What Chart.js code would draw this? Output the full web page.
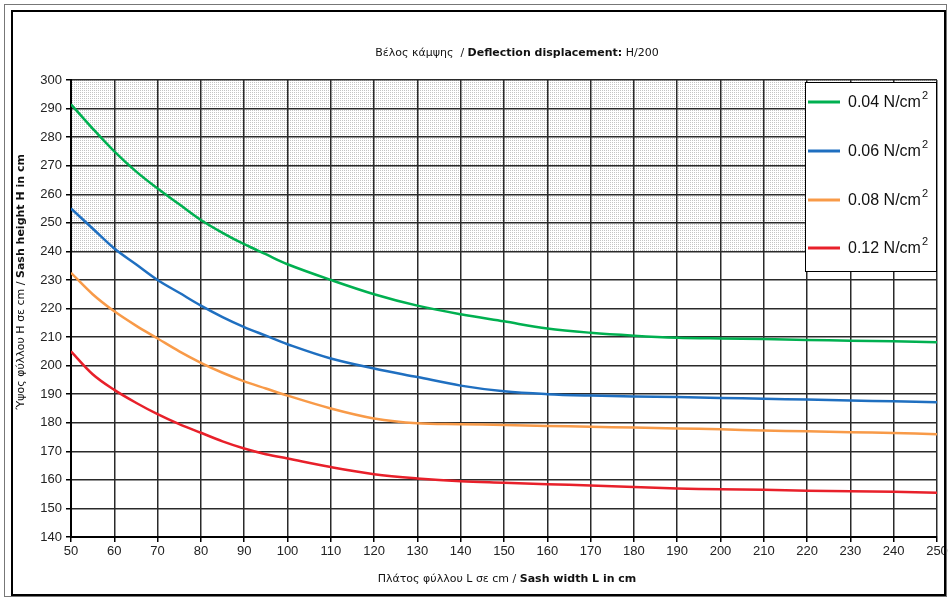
<!DOCTYPE html>
<html>
<head>
<meta charset="utf-8">
<script src="https://cdn.jsdelivr.net/npm/chart.js@4.4.1/dist/chart.umd.min.js"></script>
<style>
  html, body { margin: 0; padding: 0; background: #fff; }
  #wrap { width: 948px; height: 599px; }
</style>
</head>
<body>
<div id="wrap"><canvas id="grafica" width="948" height="599"></canvas></div>
<script>
// Πλάτος φύλλου L (cm)
const widths = [50, 55, 60, 65, 70, 75, 80, 85, 90, 95, 100, 110, 120, 130, 140, 150, 160, 170, 180, 190, 200, 210, 220, 230, 240, 250];
// Ύψος φύλλου H (cm) per pressure
const h004 = [291.5, 283, 275, 268, 262, 256.5, 251, 246.5, 242.5, 239, 235.5, 230, 225, 221, 218, 215.5, 213, 211.5, 210.5, 209.8, 209.5, 209.3, 209, 208.7, 208.5, 208.2];
const h006 = [255, 248, 241, 235.5, 230, 225.5, 221, 217, 213.5, 210.5, 207.5, 202.5, 199, 196, 193, 191, 190, 189.5, 189.2, 189, 188.7, 188.4, 188.1, 187.8, 187.5, 187.2];
const h008 = [232.5, 225, 219, 214, 209.5, 205, 201, 197.5, 194.5, 192, 189.5, 185, 181.5, 179.8, 179.5, 179.2, 178.9, 178.6, 178.3, 178, 177.7, 177.3, 177, 176.7, 176.4, 176];
const h012 = [205, 197, 191.5, 187, 183, 179.5, 176.5, 173.5, 171, 169, 167.5, 164.5, 162, 160.5, 159.5, 159, 158.5, 158, 157.5, 157, 156.7, 156.5, 156.2, 156, 155.8, 155.5];

const seriesLabels = ['0.04 N/cm', '0.06 N/cm', '0.08 N/cm', '0.12 N/cm'];
const seriesColors = ['#00b050', '#1f6fc0', '#f89a48', '#e8202a'];
const seriesValues = [h004, h006, h008, h012];

const shadeFrom = 240, shadeTo = 300;

const fontSans = '"Liberation Sans", Arial, sans-serif';
const fontTitle = '"DejaVu Sans", sans-serif';

// dotted pattern for the upper band
const pat = document.createElement('canvas');
pat.width = 2; pat.height = 2;
const pctx = pat.getContext('2d');
pctx.fillStyle = '#fff'; pctx.fillRect(0, 0, 2, 2);
pctx.fillStyle = '#c4c4c4';
pctx.fillRect(0, 0, 1, 1);

const extras = {
  id: 'extras',
  beforeDraw(chart) {
    const c = chart.ctx, x = chart.scales.x, y = chart.scales.y;
    c.save();
    c.fillStyle = '#fff';
    c.fillRect(0, 0, chart.width, chart.height);
    c.fillStyle = c.createPattern(pat, 'repeat');
    const top = y.getPixelForValue(shadeTo), bot = y.getPixelForValue(shadeFrom);
    c.fillRect(x.left, top, x.right - x.left, bot - top);
    c.restore();
  },
  afterDraw(chart) {
    const c = chart.ctx;
    c.save();
    // frames
    c.strokeStyle = '#777'; c.lineWidth = 1;
    c.strokeRect(4.5, 4.5, 942, 592);
    c.strokeStyle = '#000'; c.lineWidth = 2;
    c.strokeRect(12, 11, 933, 584);

    // title
    c.fillStyle = '#111';
    c.textBaseline = 'middle';
    c.textAlign = 'left';
    const t1 = 'Βέλος κάμψης  / ', t2 = 'Deflection displacement:', t3 = ' H/200';
    c.font = '11px ' + fontTitle; const w1 = c.measureText(t1).width, w3 = c.measureText(t3).width;
    c.font = 'bold 11px ' + fontTitle; const w2 = c.measureText(t2).width;
    let tx = 517 - (w1 + w2 + w3) / 2;
    c.font = '11px ' + fontTitle; c.fillText(t1, tx, 53); tx += w1;
    c.font = 'bold 11px ' + fontTitle; c.fillText(t2, tx, 53); tx += w2;
    c.font = '11px ' + fontTitle; c.fillText(t3, tx, 53);

    // x axis title
    const a1 = 'Πλάτος φύλλου L σε cm / ', a2 = 'Sash width L in cm';
    c.font = '11px ' + fontTitle; const aw1 = c.measureText(a1).width;
    c.font = 'bold 11px ' + fontTitle; const aw2 = c.measureText(a2).width;
    let ax = 507 - (aw1 + aw2) / 2;
    c.font = '11px ' + fontTitle; c.fillText(a1, ax, 579);
    c.font = 'bold 11px ' + fontTitle; c.fillText(a2, ax + aw1, 579);

    // y axis title
    const b1 = 'Ύψος φύλλου H σε cm / ', b2 = 'Sash height H in cm';
    c.save();
    c.translate(21, 282);
    c.rotate(-Math.PI / 2);
    c.font = '11px ' + fontTitle; const bw1 = c.measureText(b1).width;
    c.font = 'bold 11px ' + fontTitle; const bw2 = c.measureText(b2).width;
    let bx = -(bw1 + bw2) / 2;
    c.font = '11px ' + fontTitle; c.fillText(b1, bx, 0);
    c.font = 'bold 11px ' + fontTitle; c.fillText(b2, bx + bw1, 0);
    c.restore();

    // legend
    c.fillStyle = '#fff';
    c.fillRect(805, 82, 131, 190);
    c.strokeStyle = '#000'; c.lineWidth = 1;
    c.strokeRect(805.5, 82.5, 131, 189);
    const ly = [102, 151, 200, 248];
    seriesLabels.forEach((lab, i) => {
      c.strokeStyle = seriesColors[i]; c.lineWidth = 3;
      c.beginPath(); c.moveTo(808, ly[i]); c.lineTo(840, ly[i]); c.stroke();
      c.fillStyle = '#111';
      c.font = '16px ' + fontSans; c.textBaseline = 'middle';
      c.fillText(lab, 848, ly[i] + 1);
      const lw = c.measureText(lab).width;
      c.font = '11px ' + fontSans;
      c.fillText('2', 848 + lw + 1, ly[i] - 6);
    });
    c.restore();
  }
};

const ctx = document.getElementById('grafica').getContext('2d');
const myChart = new Chart(ctx, {
  type: 'line',
  data: {
    datasets: seriesValues.map((vals, i) => ({
      label: seriesLabels[i],
      data: widths.map((w, j) => ({ x: w, y: vals[j] })),
      borderColor: seriesColors[i],
      borderWidth: 2.5,
      pointRadius: 0,
      tension: 0.35,
      fill: false
    }))
  },
  options: {
    responsive: false,
    animation: false,
    layout: { padding: { left: 0, top: 80, right: 11, bottom: 30 } },
    plugins: { legend: { display: false }, tooltip: { enabled: false } },
    scales: {
      x: {
        type: 'linear', min: 50, max: 250,
        ticks: { stepSize: 10, color: '#222', font: { family: fontSans, size: 13 }, padding: 2, maxRotation: 0 },
        grid: { color: '#2a2a2a', lineWidth: 1.5, tickLength: 5, tickColor: '#000' },
        border: { color: '#000', width: 2 },
        afterFit(s) { s.height = 32; s.paddingLeft = 0; s.paddingRight = 0; }
      },
      y: {
        min: 140, max: 300,
        ticks: { stepSize: 10, color: '#222', font: { family: fontSans, size: 13 }, padding: 4 },
        grid: { color: '#2a2a2a', lineWidth: 1.5, tickLength: 5, tickColor: '#000' },
        border: { color: '#000', width: 2 },
        afterFit(s) { s.width = 71; }
      }
    }
  },
  plugins: [extras]
});
</script>
</body>
</html>
